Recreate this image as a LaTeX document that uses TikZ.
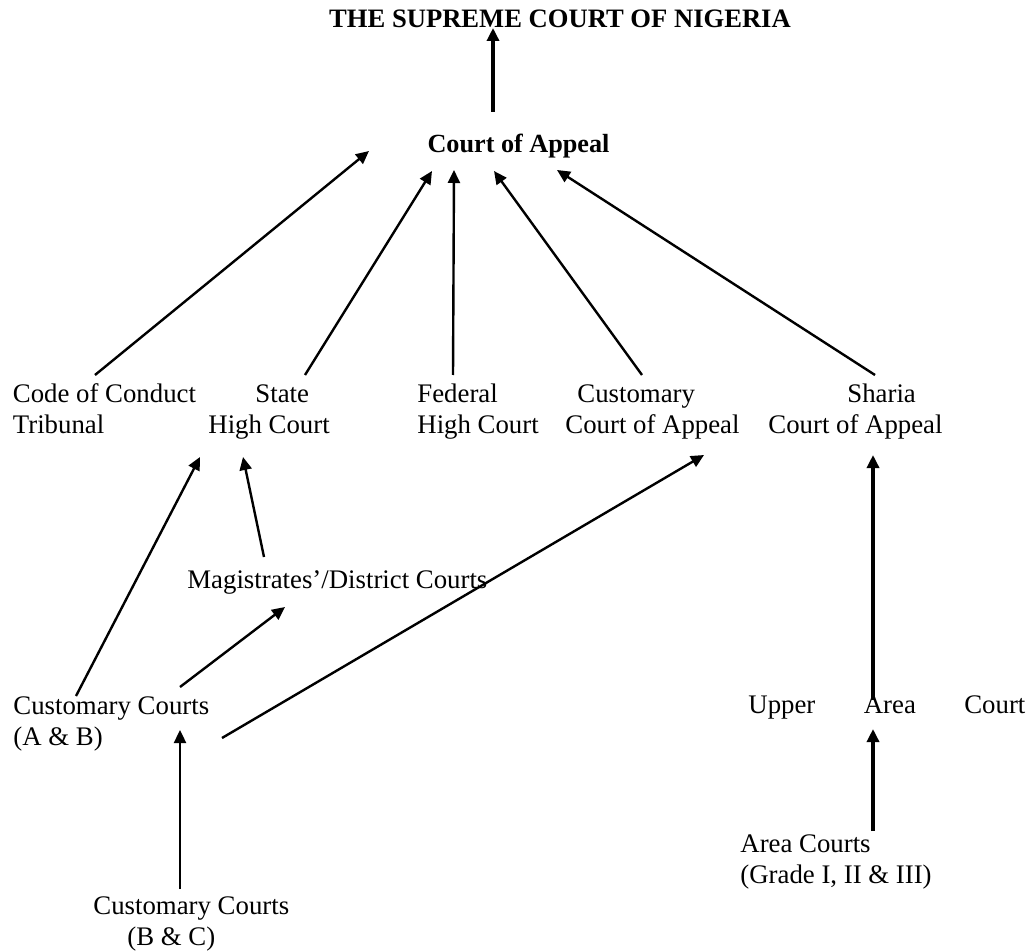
\documentclass[tikz,border=0pt]{standalone}
\usepackage{fontspec}
\setmainfont{Liberation Serif}
\usepackage{tikz}
\usetikzlibrary{positioning,calc,arrows.meta}

\begin{document}
\begin{tikzpicture}[
x=0.5pt, y=-0.5pt,
headnode/.style={inner sep=0pt, font=\fontsize{13.3}{15.5}\selectfont\bfseries},
courtnode/.style={inner sep=0pt, align=left, anchor=base west, font=\fontsize{13.4}{15.5}\selectfont},
link/.style={line width=1.2pt, -{Triangle[length=6.5pt,width=6pt]}},
thicklink/.style={line width=1.8pt, -{Triangle[length=6.5pt,width=6pt]}},
]
\useasboundingbox (0,0) rectangle (1031,951);

%Nodes
\node[headnode, anchor=base]  (supreme)    at (560,28)   {THE SUPREME COURT OF NIGERIA};
\node[headnode, anchor=base, font=\fontsize{13.1}{15}\selectfont\bfseries]
                              (appeal)     at (518.5,153) {Court of Appeal};
\node[courtnode]              (conduct)    at (12.5,433) {Code of Conduct\\Tribunal};
\node[courtnode]              (statehc)    at (208,433)  {\hspace*{23.5pt}State\\High Court};
\node[courtnode]              (federal)    at (417,433)  {Federal\\High Court};
\node[courtnode]              (custcoa)    at (565,433)  {\hspace*{6pt}Customary\\Court of Appeal};
\node[courtnode]              (shariacoa)  at (768,433)  {\hspace*{39.5pt}Sharia\\Court of Appeal};
\node[courtnode]              (magistrate) at (187,588)  {Magistrates'/District Courts};
\node[courtnode]              (custab)     at (13,745)   {Customary Courts\\(A \& B)};
\node[courtnode]              (upperarea)  at (748,713)  {\makebox[138.5pt]{Upper\hfill Area\hfill Court}};
\node[courtnode]              (areac)      at (740,883)  {Area Courts\\(Grade I, II \& III)};
\node[courtnode]              (custbc)     at (93,945)   {Customary Courts\\\hspace*{17pt}(B \& C)};

%Lines
\draw[thicklink] ($(appeal.base)+(-25.5,-41)$) -- ($(supreme.base)+(-67,0)$);
\draw[link] ($(conduct.base west)+(82.5,-58)$) -- ($(appeal.base)+(-149.5,-2)$);
\draw[link] ($(statehc.base west)+(97,-58)$) -- ($(appeal.base)+(-86.5,18)$);
\draw[link] ($(federal.base west)+(36,-58)$) -- ($(appeal.base)+(-64.5,17)$);
\draw[link] ($(custcoa.base west)+(77,-58)$) -- ($(appeal.base)+(-24.5,18)$);
\draw[link] ($(shariacoa.base west)+(107,-58)$) -- ($(appeal.base)+(38.5,17)$);

\draw[link] ($(custab.base west)+(63,-49)$) -- ($(statehc.base west)+(-8,24)$);
\draw[link] ($(magistrate.base west)+(77,-31)$) -- ($(statehc.base west)+(35,24)$);
\draw[link] ($(custab.base west)+(167,-58)$) -- ($(magistrate.base west)+(98,19)$);
\draw[link] ($(custab.base west)+(209,-7)$) -- ($(custcoa.base west)+(139,22)$);
\draw[link] ($(custbc.base west)+(87,-56)$) -- ($(custab.base west)+(167,-15)$);

\draw[thicklink] ($(upperarea.base west)+(125,-13)$) -- ($(shariacoa.base west)+(105,22)$);
\draw[thicklink] ($(areac.base west)+(133,-52)$) -- ($(upperarea.base west)+(125,16)$);
\end{tikzpicture}
\end{document}
